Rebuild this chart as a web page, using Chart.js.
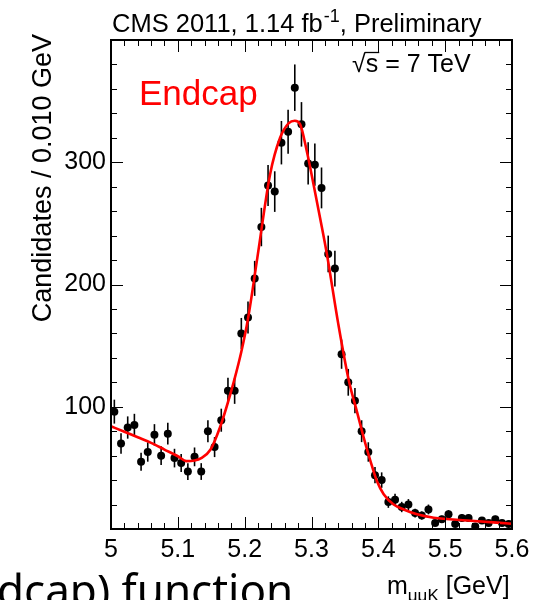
<!DOCTYPE html>
<html>
<head>
<meta charset="utf-8">
<script src="https://cdn.jsdelivr.net/npm/chart.js@4.4.1/dist/chart.umd.min.js"></script>
<style>
html, body { margin: 0; padding: 0; background: #fff; overflow: hidden; }
#wrap { width: 548px; height: 600px; position: relative; }
</style>
</head>
<body>
<div id="wrap"><canvas id="massChart" width="548" height="600"></canvas></div>
<script>
// ---- data ----
// bin centres (GeV), bin width 0.010
const massCenters = [
  5.005, 5.015, 5.025, 5.035, 5.045, 5.055, 5.065, 5.075, 5.085, 5.095,
  5.105, 5.115, 5.125, 5.135, 5.145, 5.155, 5.165, 5.175, 5.185, 5.195,
  5.205, 5.215, 5.225, 5.235, 5.245, 5.255, 5.265, 5.275, 5.285, 5.295,
  5.305, 5.315, 5.325, 5.335, 5.345, 5.355, 5.365, 5.375, 5.385, 5.395,
  5.405, 5.415, 5.425, 5.435, 5.445, 5.455, 5.465, 5.475, 5.485, 5.495,
  5.505, 5.515, 5.525, 5.535, 5.545, 5.555, 5.565, 5.575, 5.585, 5.595
];
const candidates = [
  96, 70, 83, 85, 55, 63, 77, 60, 78, 58,
  54, 47, 59, 47, 80, 67, 89, 113, 113, 160,
  173, 205, 247, 281, 276, 316, 325, 361, 331, 299,
  298, 279, 225, 213, 143, 120, 105, 80, 63, 44,
  40, 22, 24, 18, 20, 13, 11, 16, 5, 8,
  12, 4, 9, 9, 2, 7, 5, 8, 5, 4
];

// fitted curve, sampled off the red line
const fitMass = [
  5.000, 5.020, 5.040, 5.060, 5.080, 5.100, 5.113, 5.125, 5.135, 5.149,
  5.163, 5.173, 5.184, 5.195, 5.205, 5.219, 5.238, 5.253, 5.266, 5.275,
  5.283, 5.293, 5.303, 5.313, 5.323, 5.340, 5.356, 5.368, 5.378, 5.388,
  5.398, 5.408, 5.423, 5.438, 5.458, 5.483, 5.533, 5.600
];
const fitValue = [
  84, 79.6, 75, 70.5, 65, 59.5, 55.5, 56, 58, 65,
  83, 100, 121, 145, 172, 222, 290, 320, 332, 334,
  331, 309, 282, 254, 225, 168, 121, 96, 75, 56,
  39, 28.5, 20, 16, 12, 9.2, 7, 4.3
];

const xTickValues = [5.0, 5.1, 5.2, 5.3, 5.4, 5.5, 5.6];
const xTickLabels = ['5', '5.1', '5.2', '5.3', '5.4', '5.5', '5.6'];
const yTickValues = [100, 200, 300];
const yTickLabels = ['100', '200', '300'];

const FONT = '"Liberation Sans", Arial, Helvetica, sans-serif';

// ---- error bars (sqrt N) under the markers ----
const errorBars = {
  id: 'errorBars',
  beforeDatasetsDraw(chart) {
    const { ctx, scales: { x, y }, chartArea } = chart;
    ctx.save();
    ctx.strokeStyle = '#000';
    ctx.lineWidth = 1.6;
    candidates.forEach((n, i) => {
      const err = Math.sqrt(n);
      const px = x.getPixelForValue(massCenters[i]);
      const top = Math.max(chartArea.top, y.getPixelForValue(n + err));
      const bot = Math.min(chartArea.bottom, y.getPixelForValue(n - err));
      ctx.beginPath();
      ctx.moveTo(px, top);
      ctx.lineTo(px, bot);
      ctx.stroke();
    });
    ctx.restore();
  }
};

// ---- frame with inward ticks on all four sides ----
const frameTicks = {
  id: 'frameTicks',
  afterDraw(chart) {
    const { ctx, scales: { x, y }, chartArea: a } = chart;
    ctx.save();
    ctx.strokeStyle = '#000';
    ctx.lineWidth = 1;
    ctx.beginPath();
    for (let i = 0; i <= 30; i++) {
      const px = Math.round(x.getPixelForValue(5 + i * 0.02)) + 0.5;
      const len = i % 5 === 0 ? 12 : 6;
      ctx.moveTo(px, a.bottom); ctx.lineTo(px, a.bottom - len);
      ctx.moveTo(px, a.top); ctx.lineTo(px, a.top + len);
    }
    for (let i = 0; i <= 20; i++) {
      const py = Math.round(y.getPixelForValue(i * 20)) + 0.5;
      const len = i % 5 === 0 ? 12 : 6;
      ctx.moveTo(a.left, py); ctx.lineTo(a.left + len, py);
      ctx.moveTo(a.right, py); ctx.lineTo(a.right - len, py);
    }
    ctx.stroke();
    ctx.lineWidth = 2;
    ctx.strokeRect(a.left, a.top, a.right - a.left, a.bottom - a.top);
    ctx.restore();
  }
};

// ---- texts with super/subscripts ----
const labels = {
  id: 'labels',
  afterDraw(chart) {
    const { ctx } = chart;
    ctx.save();
    ctx.fillStyle = '#000';
    ctx.textBaseline = 'alphabetic';
    ctx.textAlign = 'left';

    // header
    let xPos = 112;
    ctx.font = '25.5px ' + FONT;
    ctx.fillText('CMS 2011, 1.14 fb', xPos, 32);
    xPos += ctx.measureText('CMS 2011, 1.14 fb').width;
    ctx.font = '18px ' + FONT;
    ctx.fillText('-1', xPos + 1, 22);
    xPos += ctx.measureText('-1').width + 1;
    ctx.font = '25.5px ' + FONT;
    ctx.fillText(', Preliminary', xPos, 32);

    // sqrt(s) = 7 TeV
    ctx.font = '25px ' + FONT;
    const rootW = ctx.measureText('\u221A').width;
    const sW = ctx.measureText('s').width;
    ctx.fillText('\u221As = 7 TeV', 352, 72);
    ctx.lineWidth = 1.3;
    ctx.beginPath();
    ctx.moveTo(352 + rootW - 1, 52.5);
    ctx.lineTo(352 + rootW + sW + 1, 52.5);
    ctx.stroke();

    // Endcap
    ctx.fillStyle = '#ff0000';
    ctx.font = '35px ' + FONT;
    ctx.fillText('Endcap', 139, 105);

    // y axis title, rotated, ending near the top of the frame
    ctx.fillStyle = '#000';
    ctx.save();
    ctx.translate(51, 34);
    ctx.rotate(-Math.PI / 2);
    ctx.textAlign = 'right';
    ctx.font = '27px ' + FONT;
    ctx.fillText('Candidates / 0.010 GeV', 0, 0);
    ctx.restore();

    // x axis title
    xPos = 387;
    ctx.font = '25px ' + FONT;
    ctx.fillText('m', xPos, 594);
    xPos += ctx.measureText('m').width;
    ctx.font = '17px ' + FONT;
    ctx.fillText('\u03BC\u03BCK', xPos, 601);
    xPos += ctx.measureText('\u03BC\u03BCK').width;
    ctx.font = '25px ' + FONT;
    ctx.fillText(' [GeV]', xPos, 594);

    // slide caption cut off at the bottom
    ctx.font = '44px "Noto Sans", "Open Sans", sans-serif';
    ctx.fillText('dcap) function', -3, 606);
    ctx.restore();
  }
};

const ctx = document.getElementById('massChart').getContext('2d');
const chart = new Chart(ctx, {
  type: 'scatter',
  data: {
    datasets: [
      {
        type: 'line',
        label: 'fit',
        data: fitMass.map((m, i) => ({ x: m, y: fitValue[i] })),
        borderColor: '#ff0000',
        borderWidth: 2.6,
        pointRadius: 0,
        fill: false,
        cubicInterpolationMode: 'monotone',
        order: 0
      },
      {
        label: 'data',
        data: massCenters.map((m, i) => ({ x: m, y: candidates[i] })),
        pointRadius: 4,
        pointBackgroundColor: '#000',
        pointBorderColor: '#000',
        pointBorderWidth: 0,
        order: 1
      }
    ]
  },
  options: {
    responsive: false,
    animation: false,
    devicePixelRatio: 1,
    layout: { padding: { left: 0, right: 36, top: 40, bottom: 0 } },
    plugins: { legend: { display: false }, tooltip: { enabled: false } },
    scales: {
      x: {
        type: 'linear',
        min: 5.0,
        max: 5.6,
        afterFit: s => { s.height = 71; },
        afterBuildTicks: s => { s.ticks = xTickValues.map(v => ({ value: v })); },
        ticks: {
          callback: (v, i) => xTickLabels[i],
          font: { family: FONT, size: 25 },
          color: '#000',
          padding: 6,
          maxRotation: 0,
          autoSkip: false
        },
        grid: { display: false, drawTicks: false },
        border: { display: false }
      },
      y: {
        min: 0,
        max: 400,
        afterFit: s => { s.width = 111; },
        afterBuildTicks: s => { s.ticks = yTickValues.map(v => ({ value: v })); },
        ticks: {
          callback: (v, i) => yTickLabels[i],
          font: { family: FONT, size: 25 },
          color: '#000',
          padding: 5
        },
        grid: { display: false, drawTicks: false },
        border: { display: false }
      }
    }
  },
  plugins: [errorBars, frameTicks, labels]
});
</script>
</body>
</html>
